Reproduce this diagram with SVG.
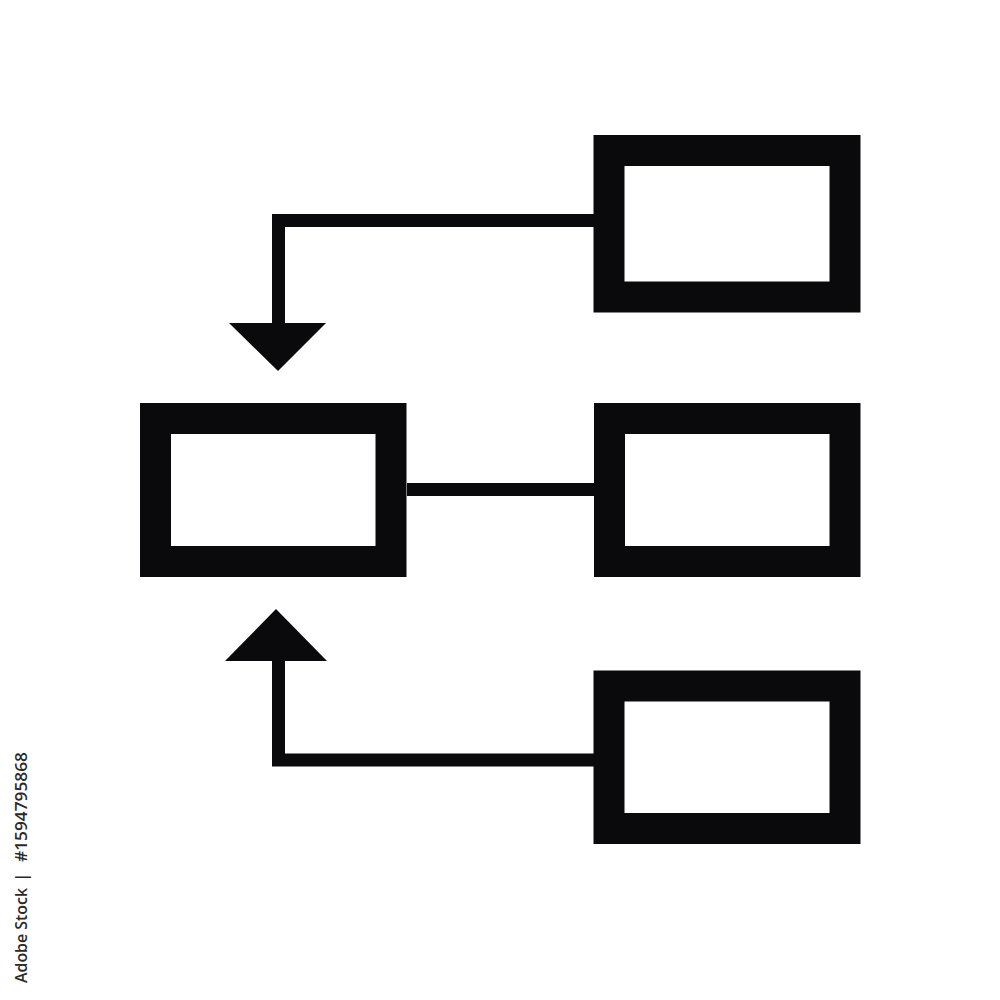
<svg xmlns="http://www.w3.org/2000/svg" width="1000" height="1000" viewBox="0 0 1000 1000">
  <style>
    .box { fill: none; stroke: #0a0a0c; stroke-width: 31; }
    .conn { fill: none; stroke: #0a0a0c; stroke-width: 13; stroke-linejoin: miter; stroke-linecap: butt; }
    .head { fill: #0a0a0c; }
    .id { font-family: "Open Sans", "Liberation Sans", sans-serif; font-size: 17px; font-weight: 600; fill: #2a2a2a; }
  </style>
  <rect width="1000" height="1000" fill="#ffffff"/>
  <g id="connectors">
    <path class="conn" d="M 594 220.5 H 278.5 V 324"/>
    <polygon class="head" points="229,323 326,323 278,371"/>
    <line class="conn" x1="407" y1="489.5" x2="594" y2="489.5"/>
    <path class="conn" d="M 594 760 H 278.5 V 660"/>
    <polygon class="head" points="225,661 327,661 276,609"/>
  </g>
  <g id="node-top-right">
    <rect class="box" x="609" y="150.5" width="236" height="146.5"/>
  </g>
  <g id="node-middle-left">
    <rect class="box" x="155.5" y="418.5" width="235.5" height="143"/>
  </g>
  <g id="node-middle-right">
    <rect class="box" x="609.5" y="418.5" width="235.5" height="143"/>
  </g>
  <g id="node-bottom-right">
    <rect class="box" x="609" y="686" width="236" height="142.5"/>
  </g>
  <g id="stock-id" class="id" transform="translate(27,983) rotate(-90)">
    <text x="0" y="0" textLength="95" lengthAdjust="spacingAndGlyphs">Adobe Stock</text>
    <text x="101" y="0">|</text>
    <text x="121" y="0" textLength="110" lengthAdjust="spacingAndGlyphs">#1594795868</text>
  </g>
</svg>
